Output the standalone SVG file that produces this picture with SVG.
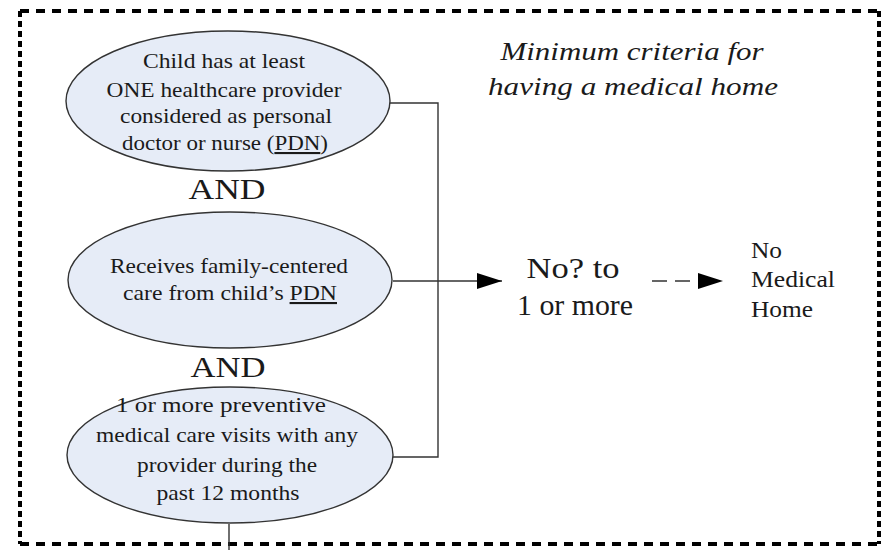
<svg xmlns="http://www.w3.org/2000/svg" width="886" height="550" viewBox="0 0 886 550">
<style>
.node ellipse{fill:#e6ecf7;stroke:#333;stroke-width:1.4}
text{fill:#1a1a1a;text-anchor:middle}
.t{font-size:21px}
.and{font-size:30px}
.big{font-size:30px}
.side{font-size:23px;text-anchor:start}
.title{font-size:26px;font-style:italic}
.conn{stroke:#333;stroke-width:1.4;fill:none}
.bh{stroke:#000;stroke-width:4;stroke-dasharray:9 7;fill:none}
.bv{stroke:#000;stroke-width:4;stroke-dasharray:6 4;fill:none}
</style>
<defs>
<marker id="ah" markerWidth="26" markerHeight="16" refX="25" refY="8" orient="auto" markerUnits="userSpaceOnUse">
<path d="M0,0 L25,8 L0,16 Z" fill="#000"/>
</marker>
</defs>
<g id="border">
<line class="bh" x1="20" y1="11" x2="879" y2="11"/>
<line class="bh" x1="20" y1="544" x2="879" y2="544"/>
<line class="bv" x1="20" y1="11" x2="20" y2="544"/>
<line class="bv" x1="879" y1="11" x2="879" y2="544"/>
</g>
<g id="connectors">
<polyline class="conn" points="390,103 438,103 438,457 393,457"/>
<line class="conn" x1="393" y1="281" x2="502" y2="281" marker-end="url(#ah)"/>
<line class="conn" x1="652" y1="281" x2="698" y2="281" stroke-dasharray="15 8 15 100"/>
<path d="M698,273 L723,281 L698,289 Z" fill="#000"/>
<line class="conn" x1="229" y1="524" x2="229" y2="550"/>
</g>
<g font-family="Liberation Serif, Tinos, Times New Roman, Times, serif">
<g id="node-pdn" class="node">
<ellipse cx="228" cy="101" rx="162" ry="70"/>
<text class="t" x="224" y="68" textLength="162" lengthAdjust="spacingAndGlyphs">Child has at least</text>
<text class="t" x="224" y="97" textLength="235" lengthAdjust="spacingAndGlyphs">ONE healthcare provider</text>
<text class="t" x="226" y="123" textLength="212" lengthAdjust="spacingAndGlyphs">considered as personal</text>
<text class="t" x="225" y="150" textLength="206" lengthAdjust="spacingAndGlyphs">doctor or nurse (<tspan text-decoration="underline">PDN</tspan>)</text>
</g>
<g id="and-1">
<text class="and" x="227" y="199" textLength="77" lengthAdjust="spacingAndGlyphs">AND</text>
</g>
<g id="node-family" class="node">
<ellipse cx="230" cy="280" rx="162" ry="68"/>
<text class="t" x="229" y="273" textLength="238" lengthAdjust="spacingAndGlyphs">Receives family-centered</text>
<text class="t" x="230" y="300" textLength="214" lengthAdjust="spacingAndGlyphs">care from child’s <tspan text-decoration="underline">PDN</tspan></text>
</g>
<g id="and-2">
<text class="and" x="228" y="377" textLength="75" lengthAdjust="spacingAndGlyphs">AND</text>
</g>
<g id="node-visits" class="node">
<ellipse cx="230" cy="455" rx="163" ry="68"/>
<text class="t" x="221" y="412" textLength="210" lengthAdjust="spacingAndGlyphs">1 or more preventive</text>
<text class="t" x="227" y="442" textLength="262" lengthAdjust="spacingAndGlyphs">medical care visits with any</text>
<text class="t" x="227" y="472" textLength="180" lengthAdjust="spacingAndGlyphs">provider during the</text>
<text class="t" x="228" y="500" textLength="143" lengthAdjust="spacingAndGlyphs">past 12 months</text>
</g>
<g id="title">
<text class="title" x="632" y="60" textLength="263" lengthAdjust="spacingAndGlyphs">Minimum criteria for</text>
<text class="title" x="633" y="95" textLength="290" lengthAdjust="spacingAndGlyphs">having a medical home</text>
</g>
<g id="node-no">
<text class="big" x="573" y="278" textLength="93" lengthAdjust="spacingAndGlyphs">No? to</text>
<text class="big" x="575" y="315" textLength="116" lengthAdjust="spacingAndGlyphs">1 or more</text>
</g>
<g id="node-nomedhome">
<text class="side" x="751" y="258" textLength="31" lengthAdjust="spacingAndGlyphs">No</text>
<text class="side" x="751" y="287" textLength="84" lengthAdjust="spacingAndGlyphs">Medical</text>
<text class="side" x="751" y="317" textLength="62" lengthAdjust="spacingAndGlyphs">Home</text>
</g>
</g>
</svg>
